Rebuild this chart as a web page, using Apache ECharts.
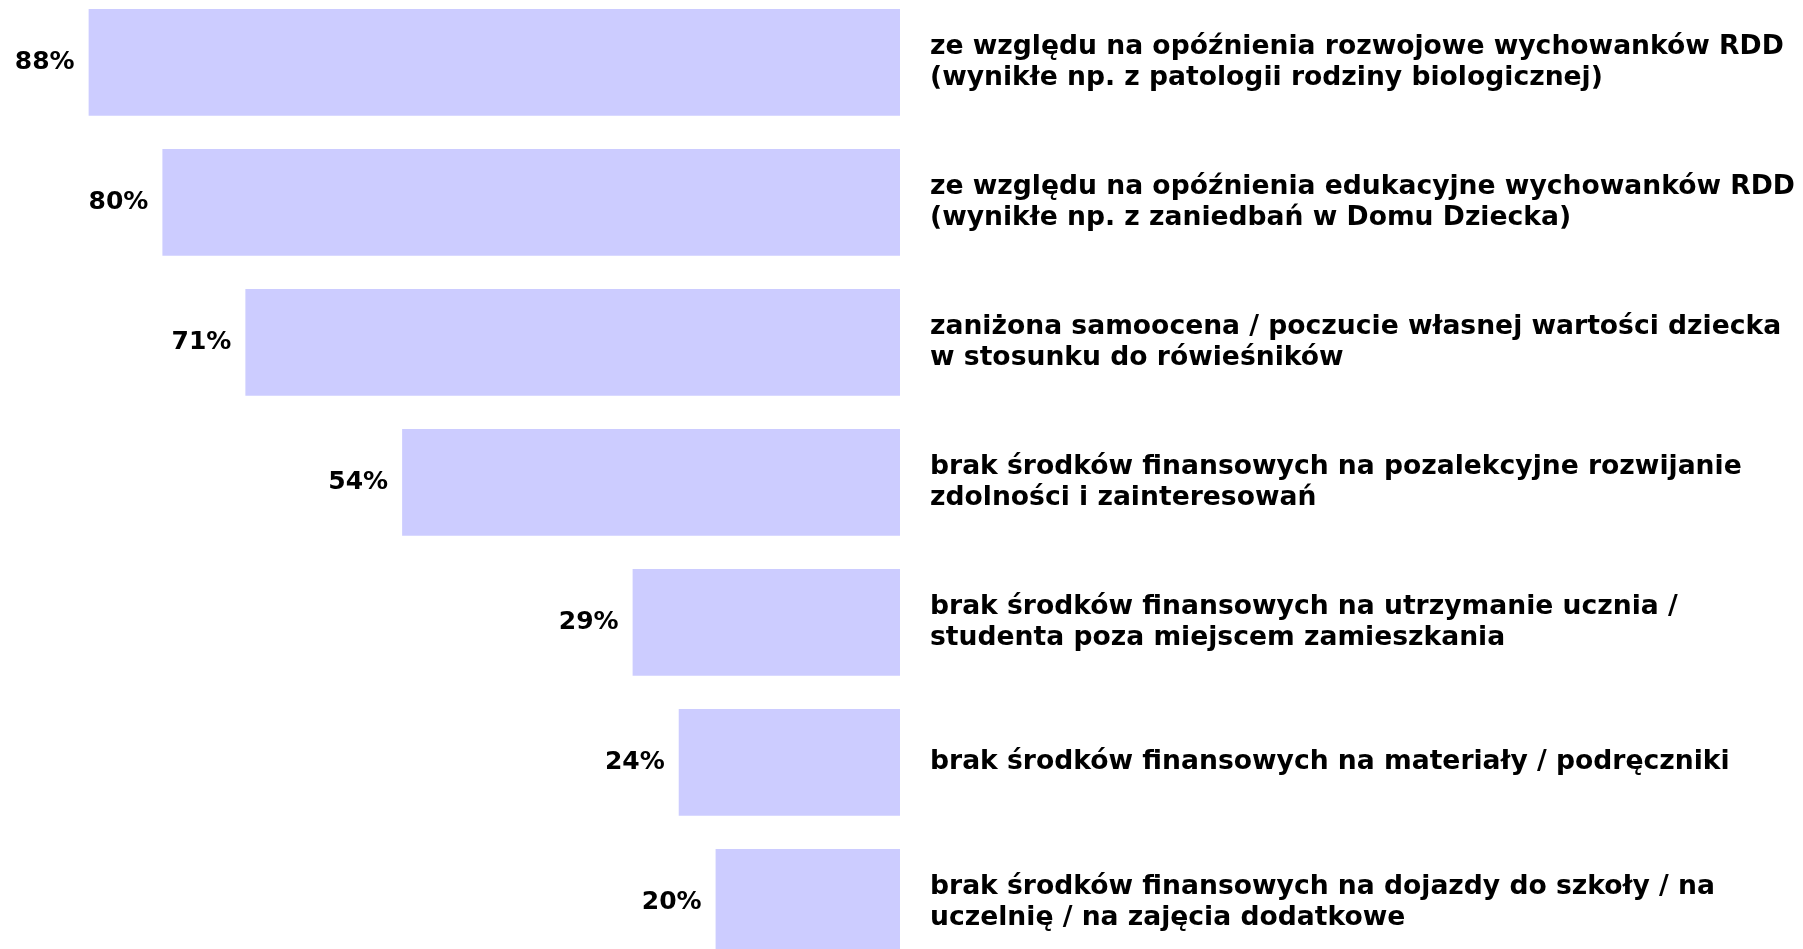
<!DOCTYPE html>
<html>
<head>
<meta charset="utf-8">
<script src="https://cdn.jsdelivr.net/npm/echarts@6/dist/echarts.min.js"></script>
<style>
    html, body { margin: 0; padding: 0; background: #fff; }
    #chart { width: 1803px; height: 949px; }
</style>
</head>
<body>
<div id="chart"></div>
<script>
var categories = [
    'ze względu na opóźnienia rozwojowe wychowanków RDD\n(wynikłe np. z patologii rodziny biologicznej)',
    'ze względu na opóźnienia edukacyjne wychowanków RDD\n(wynikłe np. z zaniedbań w Domu Dziecka)',
    'zaniżona samoocena / poczucie własnej wartości dziecka\nw stosunku do rówieśników',
    'brak środków finansowych na pozalekcyjne rozwijanie\nzdolności i zainteresowań',
    'brak środków finansowych na utrzymanie ucznia /\nstudenta poza miejscem zamieszkania',
    'brak środków finansowych na materiały / podręczniki',
    'brak środków finansowych na dojazdy do szkoły / na\nuczelnię / na zajęcia dodatkowe'
];
var values = [88, 80, 71, 54, 29, 24, 20];

var font = 'DejaVu Sans';

// pierwszy opis jest w oryginale lekko przesunięty w dół
var yData = categories.map(function(name, idx) {
    if (idx !== 0) return name;
    return { value: name, textStyle: { padding: [14, 0, 0, 0] } };
});

var option = {
    animation: false,
    backgroundColor: '#ffffff',
    grid: {
        left: -22,
        right: 903,
        top: -7.6,
        bottom: -23.4,
        containLabel: false,
        outerBoundsMode: 'none'
    },
    xAxis: {
        type: 'value',
        inverse: true,
        min: 0,
        max: 100,
        show: false
    },
    yAxis: {
        type: 'category',
        position: 'right',
        inverse: true,
        data: yData,
        axisLine: { show: false },
        axisTick: { show: false },
        axisLabel: {
            margin: 30,
            align: 'left',
            color: '#000',
            fontFamily: font,
            fontWeight: 'bold',
            fontSize: 26.6,
            lineHeight: 31
        }
    },
    series: [{
        type: 'bar',
        data: values,
        barCategoryGap: '23.8%',
        itemStyle: { color: '#ccccff' },
        label: {
            show: true,
            position: 'left',
            distance: 14,
            formatter: '{c}%',
            color: '#000',
            fontFamily: font,
            fontWeight: 'bold',
            fontSize: 25
        }
    }]
};

var mychart = echarts.init(document.getElementById('chart'));
mychart.setOption(option);
</script>
</body>
</html>
